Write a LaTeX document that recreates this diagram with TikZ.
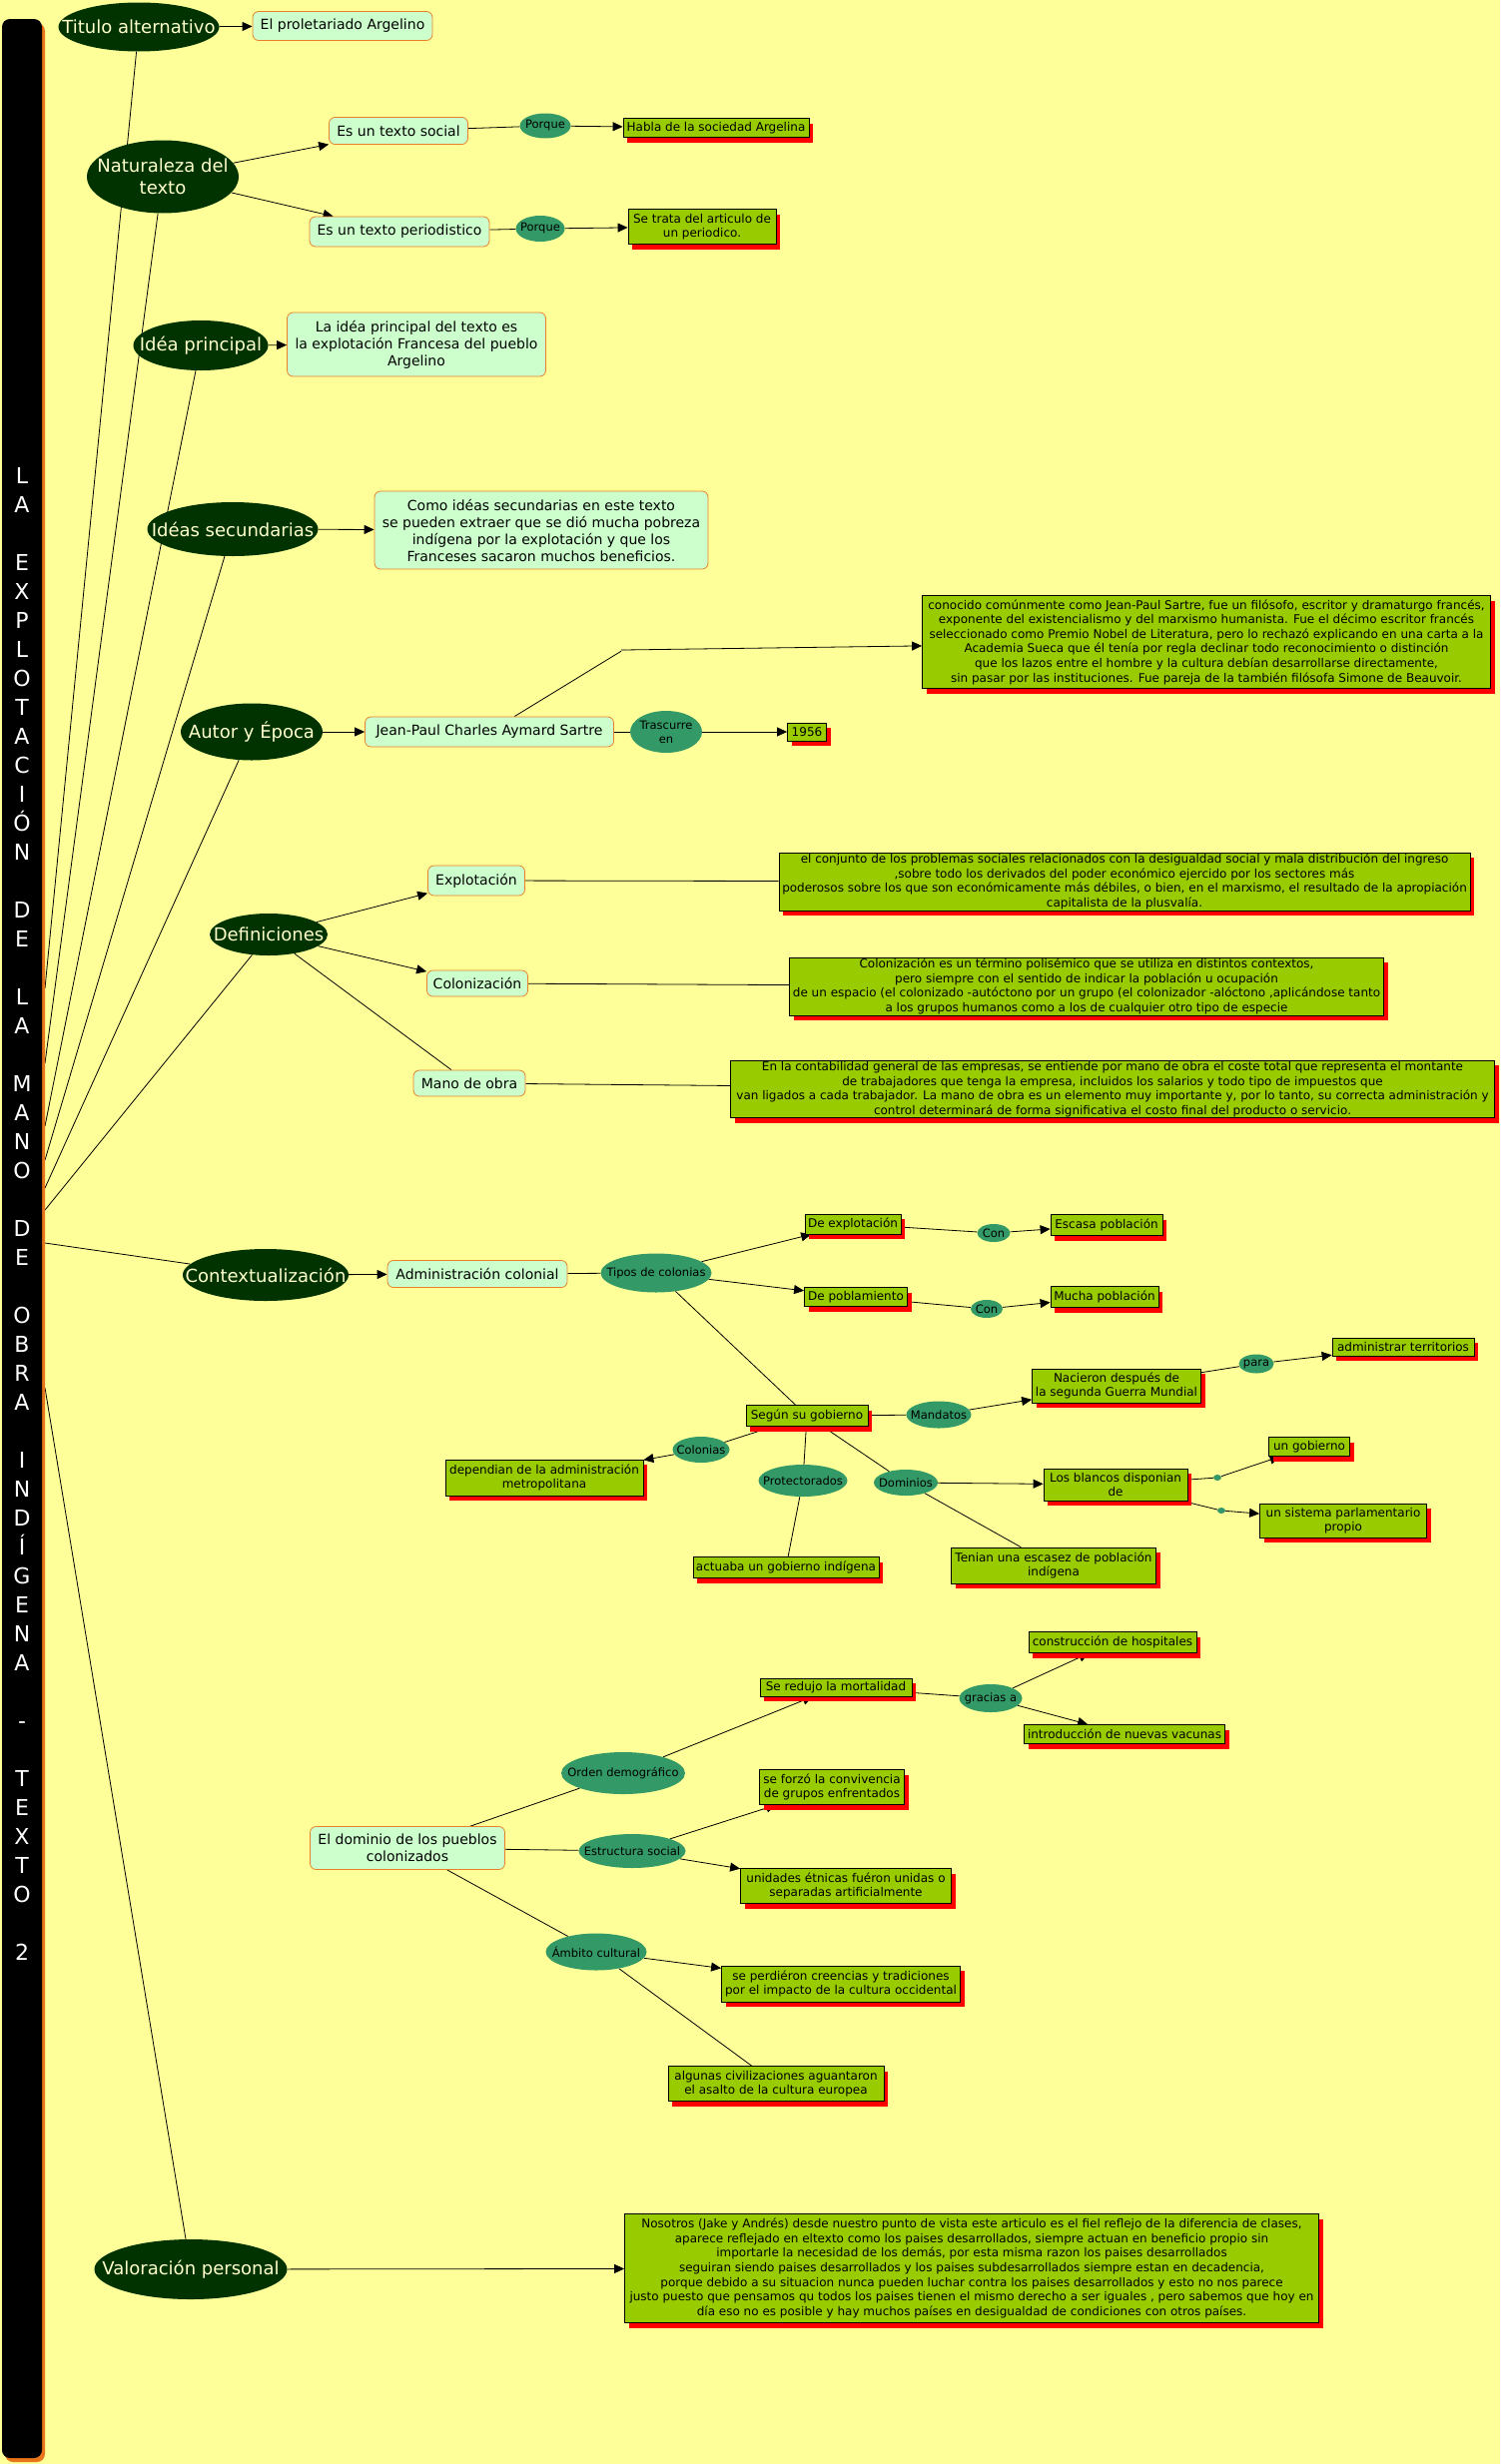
\documentclass[tikz,border=0pt]{standalone}
\usepackage{fontspec}
\setmainfont{DejaVu Sans}
\usepackage{tikz}
\usetikzlibrary{arrows.meta,shapes.geometric,shadows}

\definecolor{amarillo}{HTML}{FFFF99}
\definecolor{verdeosc}{HTML}{003300}
\definecolor{verdemed}{HTML}{339966}
\definecolor{verdecla}{HTML}{CCFFCC}
\definecolor{oliva}{HTML}{99CC00}
\definecolor{borde}{HTML}{E8822A}
\definecolor{crema}{HTML}{FFFFCC}
\definecolor{naranja}{HTML}{E8751A}
\definecolor{gris}{HTML}{999966}

\pgfdeclarelayer{fondo}
\pgfdeclarelayer{lineas}
\pgfsetlayers{fondo,lineas,main}

\tikzset{tam/.style 2 args={minimum width=#1pt,minimum height=#2pt}}

\begin{document}
\begin{tikzpicture}[x=1pt,y=-1pt,
    tema/.style={ellipse,fill=verdeosc,text=crema,inner xsep=-45pt,inner ysep=0pt,align=center,font=\fontsize{18}{21.5}\selectfont},
    enlace/.style={ellipse,fill=verdemed,inner xsep=-45pt,inner ysep=0pt,align=center,font=\fontsize{11.5}{14}\selectfont},
    concepto/.style={rectangle,rounded corners=6pt,fill=verdecla,draw=borde,line width=0.8pt,inner sep=1pt,align=center,font=\fontsize{14}{17}\selectfont},
    hoja/.style={rectangle,fill=oliva,draw=black,line width=0.8pt,inner sep=1pt,align=center,font=\fontsize{12}{14.4}\selectfont,
        drop shadow={shadow xshift=4pt,shadow yshift=-5pt,fill=red,opacity=1}},
    texto/.style={hoja,font=\fontsize{12}{14.6}\selectfont},
    titulo/.style={text=white,align=center,font=\fontsize{22}{29}\selectfont},
    linea/.style={line width=0.8pt},
    flecha/.style={line width=0.8pt,-{Triangle[length=10pt,width=9pt]}}]

\useasboundingbox (0,0) rectangle (1502,2468);
\begin{pgfonlayer}{fondo}
    \fill[amarillo] (0,0) rectangle (1502,2468);
\end{pgfonlayer}

% barra lateral con el titulo
\fill[naranja,rounded corners=8pt] (5,23) rectangle (45,2466);
\fill[black,rounded corners=8pt] (2,19) rectangle (42,2462);
\node[titulo] (tt) at (22,1216) {L\\A\\\mbox{}\\E\\X\\P\\L\\O\\T\\A\\C\\I\\Ó\\N\\\mbox{}\\D\\E\\\mbox{}\\L\\A\\\mbox{}\\M\\A\\N\\O\\\mbox{}\\D\\E\\\mbox{}\\O\\B\\R\\A\\\mbox{}\\I\\N\\D\\Í\\G\\E\\N\\A\\\mbox{}\\-\\\mbox{}\\T\\E\\X\\T\\O\\\mbox{}\\2};
\coordinate (b1) at (45,990);
\coordinate (b2) at (45,1065);
\coordinate (b3) at (45,1128);
\coordinate (b4) at (45,1162);
\coordinate (b5) at (45,1190);
\coordinate (b6) at (45,1212);
\coordinate (b7) at (45,1245);
\coordinate (b8) at (45,1390);

% temas principales
\node[tema,tam={161}{49}] (tit) at (139,27) {Titulo alternativo};
\node[tema,tam={152}{73}] (nat) at (163,177) {Naturaleza del\\texto};
\node[tema,tam={135}{50}] (idp) at (201,346) {Idéa principal};
\node[tema,tam={171}{54}] (ids) at (233,530) {Idéas secundarias};
\node[tema,tam={142}{57}] (aut) at (252,733) {Autor y Época};
\node[tema,tam={118}{42}] (def) at (269,936) {Definiciones};
\node[tema,tam={166}{52}] (ctx) at (266,1277) {Contextualización};
\node[tema,tam={193}{60}] (val) at (191,2273) {Valoración personal};

% titulo, naturaleza, ideas
\node[concepto,tam={180}{29}] (prol) at (343,26) {El proletariado Argelino};
\node[concepto,tam={139}{27}] (soc) at (399,131) {Es un texto social};
\node[enlace,tam={51}{25}] (por1) at (546,126) {Porque};
\node[hoja,tam={186}{19}] (hab) at (717,128) {Habla de la sociedad Argelina};
\node[concepto,tam={180}{30}] (per) at (400,232) {Es un texto periodistico};
\node[enlace,tam={49}{26}] (por2) at (541,229) {Porque};
\node[hoja,tam={148}{35}] (trata) at (703,227) {Se trata del articulo de\\un periodico.};
\node[concepto,tam={259}{64}] (idpb) at (417,345) {La idéa principal del texto es\\la explotación Francesa del pueblo\\Argelino};
\node[concepto,tam={334}{78}] (idsb) at (542,531) {Como idéas secundarias en este texto\\se pueden extraer que se dió mucha pobreza\\indígena por la explotación y que los\\Franceses sacaron muchos beneficios.};

% autor
\node[concepto,tam={249}{30}] (jps) at (490,733) {Jean-Paul Charles Aymard Sartre};
\node[enlace,tam={72}{42}] (tra) at (667,733) {Trascurre\\en};
\node[hoja,tam={39}{18}] (anio) at (808,733) {1956};
\node[fill=gris,inner sep=0pt,tam={5}{2}] (sdot) at (624,651) {};
\node[texto,tam={569}{93}] (srt) at (1208,643) {conocido comúnmente como Jean-Paul Sartre, fue un filósofo, escritor y dramaturgo francés,\\exponente del existencialismo y del marxismo humanista. Fue el décimo escritor francés\\seleccionado como Premio Nobel de Literatura, pero lo rechazó explicando en una carta a la\\Academia Sueca que él tenía por regla declinar todo reconocimiento o distinción\\que los lazos entre el hombre y la cultura debían desarrollarse directamente,\\sin pasar por las instituciones. Fue pareja de la también filósofa Simone de Beauvoir.};

% definiciones
\node[concepto,tam={97}{30}] (exp) at (477,882) {Explotación};
\node[concepto,tam={101}{26}] (col) at (478,985) {Colonización};
\node[concepto,tam={112}{26}] (mano) at (470,1085) {Mano de obra};
\node[texto,tam={692}{58}] (expd) at (1126,883) {el conjunto de los problemas sociales relacionados con la desigualdad social y mala distribución del ingreso\\,sobre todo los derivados del poder económico ejercido por los sectores más\\poderosos sobre los que son económicamente más débiles, o bien, en el marxismo, el resultado de la apropiación\\capitalista de la plusvalía.};
\node[texto,tam={595}{58}] (cold) at (1088,988) {Colonización es un término polisémico que se utiliza en distintos contextos,\\pero siempre con el sentido de indicar la población u ocupación\\de un espacio (el colonizado -autóctono por un grupo (el colonizador -alóctono ,aplicándose tanto\\a los grupos humanos como a los de cualquier otro tipo de especie};
\node[texto,tam={765}{56}] (manod) at (1114,1091) {En la contabilidad general de las empresas, se entiende por mano de obra el coste total que representa el montante\\de trabajadores que tenga la empresa, incluidos los salarios y todo tipo de impuestos que\\van ligados a cada trabajador. La mano de obra es un elemento muy importante y, por lo tanto, su correcta administración y\\control determinará de forma significativa el costo final del producto o servicio.};

% contextualizacion
\node[concepto,tam={180}{27}] (adm) at (478,1276) {Administración colonial};
\node[enlace,tam={111}{39}] (tip) at (657,1275) {Tipos de colonias};
\node[hoja,tam={96}{20}] (dexp) at (854,1226) {De explotación};
\node[enlace,tam={33}{18}] (con1) at (995,1235) {Con};
\node[hoja,tam={112}{21}] (esc) at (1108,1227) {Escasa población};
\node[hoja,tam={103}{19}] (dpob) at (857,1299) {De poblamiento};
\node[enlace,tam={32}{18}] (con2) at (988,1311) {Con};
\node[hoja,tam={108}{21}] (muc) at (1106,1299) {Mucha población};
\node[hoja,tam={122}{21}] (seg) at (808,1418) {Según su gobierno};
\node[enlace,tam={65}{27}] (mand) at (940,1417) {Mandatos};
\node[hoja,tam={169}{34}] (nac) at (1118,1388) {Nacieron después de\\la segunda Guerra Mundial};
\node[enlace,tam={35}{19}] (para) at (1258,1366) {para};
\node[hoja,tam={142}{18}] (adt) at (1405,1349) {administrar territorios};
\node[enlace,tam={57}{26}] (colo) at (702,1452) {Colonias};
\node[hoja,tam={198}{36}] (dep) at (545,1480) {dependian de la administración\\metropolitana};
\node[enlace,tam={89}{32}] (prot) at (804,1483) {Protectorados};
\node[hoja,tam={186}{21}] (act) at (787,1570) {actuaba un gobierno indígena};
\node[enlace,tam={64}{26}] (domi) at (907,1485) {Dominios};
\node[hoja,tam={144}{32}] (blan) at (1117,1487) {Los blancos disponian\\de};
\node[hoja,tam={205}{36}] (ten) at (1055,1568) {Tenian una escasez de población\\indígena};
\node[enlace,tam={8}{6}] (dot1) at (1219,1480) {};
\node[enlace,tam={8}{6}] (dot2) at (1223,1513) {};
\node[hoja,tam={81}{19}] (gob) at (1311,1449) {un gobierno};
\node[hoja,tam={167}{34}] (sis) at (1345,1523) {un sistema parlamentario\\propio};

% dominio de los pueblos
\node[concepto,tam={195}{43}] (dom) at (408,1851) {El dominio de los pueblos\\colonizados};
\node[enlace,tam={124}{42}] (ord) at (624,1776) {Orden demográfico};
\node[hoja,tam={152}{18}] (red) at (837,1690) {Se redujo la mortalidad};
\node[enlace,tam={63}{28}] (gra) at (992,1701) {gracias a};
\node[hoja,tam={168}{21}] (cons) at (1114,1645) {construcción de hospitales};
\node[hoja,tam={201}{19}] (intr) at (1126,1737) {introducción de nuevas vacunas};
\node[enlace,tam={107}{34}] (est) at (633,1854) {Estructura social};
\node[hoja,tam={145}{35}] (forz) at (833,1790) {se forzó la convivencia\\de grupos enfrentados};
\node[hoja,tam={211}{35}] (uni) at (847,1889) {unidades étnicas fuéron unidas o\\separadas artificialmente};
\node[enlace,tam={101}{37}] (amb) at (597,1955) {Ámbito cultural};
\node[hoja,tam={239}{36}] (perd) at (842,1987) {se perdiéron creencias y tradiciones\\por el impacto de la cultura occidental};
\node[hoja,tam={216}{35}] (alg) at (777,2087) {algunas civilizaciones aguantaron\\el asalto de la cultura europea};

% valoracion
\node[texto,tam={695}{109}] (vald) at (973,2272) {Nosotros (Jake y Andrés) desde nuestro punto de vista este articulo es el fiel reflejo de la diferencia de clases,\\aparece reflejado en eltexto como los paises desarrollados, siempre actuan en beneficio propio sin\\importarle la necesidad de los demás, por esta misma razon los paises desarrollados\\seguiran siendo paises desarrollados y los paises subdesarrollados siempre estan en decadencia,\\porque debido a su situacion nunca pueden luchar contra los paises desarrollados y esto no nos parece\\justo puesto que pensamos qu todos los paises tienen el mismo derecho a ser iguales , pero sabemos que hoy en\\día eso no es posible y hay muchos países en desigualdad de condiciones con otros países.};

\begin{pgfonlayer}{lineas}
    % hacia la barra
    \draw[linea] (tit) -- (b1);
    \draw[linea] (nat) -- (b2);
    \draw[linea] (idp) -- (b3);
    \draw[linea] (ids) -- (b4);
    \draw[linea] (aut) -- (b5);
    \draw[linea] (def) -- (b6);
    \draw[linea] (ctx) -- (b7);
    \draw[linea] (val) -- (b8);

    \draw[flecha] (tit) -- (prol);
    \draw[flecha] (nat) -- (soc);
    \draw[linea] (soc) -- (por1);
    \draw[flecha] (por1) -- (hab);
    \draw[flecha] (nat) -- (per);
    \draw[linea] (per) -- (por2);
    \draw[flecha] (por2) -- (trata);
    \draw[flecha] (idp) -- (idpb);
    \draw[flecha] (ids) -- (idsb);

    \draw[flecha] (aut) -- (jps);
    \draw[linea] (jps) -- (tra);
    \draw[flecha] (tra) -- (anio);
    \draw[linea] (jps) -- (sdot);
    \draw[flecha] (sdot) -- (srt);

    \draw[flecha] (def) -- (exp);
    \draw[flecha] (def) -- (col);
    \draw[linea] (def) -- (mano);
    \draw[linea] (exp) -- (expd);
    \draw[linea] (col) -- (cold);
    \draw[linea] (mano) -- (manod);

    \draw[flecha] (ctx) -- (adm);
    \draw[linea] (adm) -- (tip);
    \draw[flecha] (tip) -- (dexp);
    \draw[linea] (dexp) -- (con1);
    \draw[flecha] (con1) -- (esc);
    \draw[flecha] (tip) -- (dpob);
    \draw[linea] (dpob) -- (con2);
    \draw[flecha] (con2) -- (muc);
    \draw[linea] (tip) -- (seg);
    \draw[linea] (seg) -- (mand);
    \draw[flecha] (mand) -- (nac);
    \draw[linea] (nac) -- (para);
    \draw[flecha] (para) -- (adt);
    \draw[linea] (seg) -- (colo);
    \draw[flecha] (colo) -- (dep);
    \draw[linea] (seg) -- (prot);
    \draw[linea] (prot) -- (act);
    \draw[linea] (seg) -- (domi);
    \draw[flecha] (domi) -- (blan);
    \draw[linea] (domi) -- (ten);
    \draw[linea] (blan) -- (dot1);
    \draw[flecha] (dot1) -- (gob);
    \draw[linea] (blan) -- (dot2);
    \draw[flecha] (dot2) -- (sis);

    \draw[linea] (dom) -- (ord);
    \draw[flecha] (ord) -- (red);
    \draw[linea] (red) -- (gra);
    \draw[flecha] (gra) -- (cons);
    \draw[flecha] (gra) -- (intr);
    \draw[linea] (dom) -- (est);
    \draw[flecha] (est) -- (forz);
    \draw[flecha] (est) -- (uni);
    \draw[linea] (dom) -- (amb);
    \draw[flecha] (amb) -- (perd);
    \draw[linea] (amb) -- (alg);

    \draw[flecha] (val) -- (vald);
\end{pgfonlayer}
\end{tikzpicture}
\end{document}
